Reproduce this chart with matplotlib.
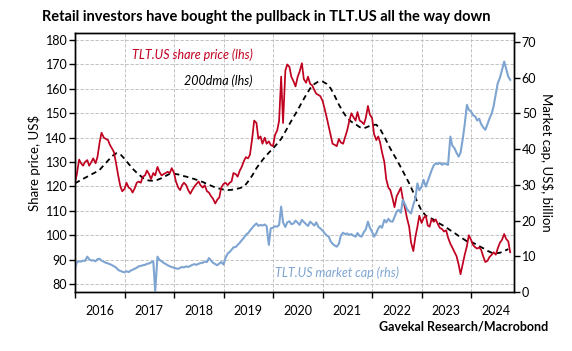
import pandas as pd
import matplotlib
matplotlib.use("Agg")
import matplotlib.pyplot as plt
import matplotlib.dates as mdates

plt.rcParams["font.family"] = ["Lato", "DejaVu Sans"]

# ----- DATA -----
# TLT.US share price, US$ (1st and 15th of each month)
price_2016 = [121.5, 125, 131, 129.5, 128.5, 130, 130.8, 128.5, 130, 131.5, 129.5, 132,
              138, 142, 140, 139.5, 139, 137, 135.5, 134, 129, 124.5, 120, 118]
price_2017 = [119, 121.5, 119.5, 119, 117.5, 119, 121.5, 122, 121.5, 124, 124.5, 126.5,
              125, 123, 125.5, 124.5, 128, 126, 124.5, 125, 125.5, 126, 125.5, 127.5]
price_2018 = [125.5, 122, 119.5, 118.5, 120.5, 121.5, 120.5, 118.5, 117, 118.5, 120, 121,
              122, 120.5, 119.5, 120.5, 118, 117.5, 116, 115, 113, 114.5, 115.5, 119.5]
price_2019 = [121, 121.5, 120.5, 121.5, 122, 125.5, 125, 124, 126.5, 128, 130.5, 132,
              131.5, 133, 140, 147, 146, 139.5, 140.5, 137.5, 140, 137.5, 138.5, 137]
price_2020 = [136.5, 141, 143, 147, 165, 146, 167.5, 170, 169, 165, 163, 161,
              165, 167, 170.5, 164, 162.5, 165, 162, 161.5, 159.5, 158, 157.5, 157]
price_2021 = [155, 152, 148, 144.5, 141, 137.5, 137, 136.5, 139.5, 138, 137.5, 140,
              143, 146.5, 150, 148.5, 147, 150.5, 147, 146.5, 145.5, 148, 153, 149.5]
price_2022 = [148, 141.5, 139, 140.5, 138, 134, 130, 123, 119.5, 118.5, 115, 111.5,
              116, 117.5, 119.5, 115, 111, 107, 103.5, 97, 93.5, 99, 103.5, 108]
price_2023 = [105, 107, 108, 104, 103.5, 106.5, 105.5, 106.5, 104.5, 103, 102.5, 101.5,
              102, 99, 96.5, 95, 93, 91.5, 88, 84, 88.5, 92, 95.5, 100]
price_2024 = [98, 96, 95, 94.5, 95, 94, 91, 89, 89.5, 91, 92, 93,
              92, 94.5, 97, 98, 100.5, 98.5, 97.5, 93]

# TLT.US market cap, US$ billion (1st and 15th of each month)
cap_2016 = [6.3, 8.3, 8.6, 8.5, 8.8, 8.7, 9.9, 9.2, 8.8, 8.9, 8.6, 9.2,
            9.3, 8.8, 8.5, 8.2, 8.0, 7.8, 7.5, 7.2, 6.8, 6.2, 5.9, 5.7]
cap_2017 = [5.5, 5.8, 5.6, 6.0, 6.2, 6.5, 6.8, 7.2, 7.3, 7.5, 7.6, 7.9,
            8.0, 8.3, 8.6, 0.3, 9.9, 9.0, 8.6, 8.2, 7.8, 7.5, 7.2, 7.0]
cap_2018 = [6.8, 6.6, 6.5, 6.8, 7.0, 6.9, 7.2, 7.0, 7.3, 7.6, 7.8, 7.6,
            7.9, 8.1, 8.2, 8.5, 8.4, 9.5, 8.8, 8.2, 7.8, 7.5, 8.0, 8.4]
cap_2019 = [7.7, 9.5, 10.8, 11.2, 11.8, 12.5, 12.6, 13.2, 13.8, 14.5, 15.2, 16.0,
            16.5, 17.2, 18.0, 18.6, 19.2, 18.5, 18.8, 18.6, 18.9, 18.4, 13.2, 17.8]
cap_2020 = [18.0, 18.4, 18.3, 18.8, 23.9, 19.5, 18.2, 19.5, 19.8, 19.0, 19.2, 20.0,
            19.4, 18.8, 20.2, 19.6, 19.0, 18.5, 19.7, 19.2, 18.6, 19.5, 18.2, 17.8]
cap_2021 = [17.2, 16.5, 15.8, 15.5, 14.2, 13.5, 13.0, 12.7, 13.5, 15.8, 16.6, 16.2,
            16.4, 16.0, 16.2, 15.8, 15.5, 16.5, 15.7, 15.5, 16.8, 17.5, 19.7, 18.0]
cap_2022 = [16.8, 15.5, 16.5, 17.8, 18.5, 18.0, 20.2, 19.5, 20.5, 19.8, 19.7, 21.0,
            22.5, 23.0, 22.2, 25.8, 24.5, 23.2, 22.5, 22.0, 24.5, 26.0, 30.4, 28.5]
cap_2023 = [29.5, 31.4, 29.5, 31.0, 32.5, 34.0, 35.5, 36.0, 35.8, 36.2, 35.6, 36.0,
            35.8, 35.6, 43.5, 41.0, 40.2, 39.0, 37.9, 39.0, 43.0, 47.0, 52.4, 51.0]
cap_2024 = [50.5, 49.5, 49.1, 48.0, 48.5, 47.0, 46.0, 45.4, 47.0, 48.5, 50.0, 52.0,
            55.5, 58.4, 60.0, 62.0, 64.5, 62.5, 60.3, 59.4]

# 200-day moving average, US$ (1st of each month)
dma_2016 = [121.3, 122.2, 123.1, 124.0, 124.9, 125.8, 126.8, 128.7, 130.6, 132.4, 133.6, 133.2]
dma_2017 = [131.3, 129.2, 127.3, 125.6, 124.2, 122.8, 122.4, 122.3, 122.7, 123.4, 124.3, 125.2]
dma_2018 = [125.2, 124.9, 124.4, 124.0, 123.5, 123.0, 122.4, 121.8, 121.0, 120.3, 119.6, 119.1]
dma_2019 = [118.7, 118.5, 118.6, 118.9, 119.3, 119.9, 122.0, 124.5, 127.5, 129.8, 132.0, 133.8]
dma_2020 = [135.6, 137.5, 139.5, 142.5, 145.5, 148.5, 151.3, 154.5, 157.5, 160.2, 162.0, 163.0]
dma_2021 = [163.0, 162.0, 160.2, 157.0, 153.5, 150.5, 148.0, 146.5, 145.5, 144.3, 143.8, 144.5]
dma_2022 = [145.2, 145.3, 143.5, 140.4, 137.0, 133.8, 131.0, 127.8, 124.5, 121.3, 117.5, 113.5]
dma_2023 = [110.0, 108.0, 107.3, 106.3, 105.1, 104.2, 103.2, 102.0, 100.9, 99.7, 98.6, 97.5]
dma_2024 = [97.3, 96.4, 95.5, 94.6, 93.6, 92.8, 92.6, 92.8, 93.5, 94.3]

years = ["2016", "2017", "2018", "2019", "2020", "2021", "2022", "2023", "2024"]

price = price_2016 + price_2017 + price_2018 + price_2019 + price_2020 + price_2021 + price_2022 + price_2023 + price_2024
cap = cap_2016 + cap_2017 + cap_2018 + cap_2019 + cap_2020 + cap_2021 + cap_2022 + cap_2023 + cap_2024
dma = dma_2016 + dma_2017 + dma_2018 + dma_2019 + dma_2020 + dma_2021 + dma_2022 + dma_2023 + dma_2024

semi_dates = pd.date_range("2016-01-01", "2024-10-15", freq="SMS")
month_dates = pd.date_range("2016-01-01", "2024-10-01", freq="MS")

RED = "#c0001f"
BLUE = "#7ea5d1"

# ----- PLOT -----
fig = plt.figure(figsize=(5.72, 3.51), dpi=100)
ax = fig.add_axes([0.131, 0.168, 0.768, 0.738])
ax2 = ax.twinx()

ax.plot(month_dates, dma, color="black", lw=1.3, ls=(0, (3, 2.2)), zorder=3)
ax.plot(semi_dates, price, color=RED, lw=1.25, zorder=4)
ax2.plot(semi_dates, cap, color=BLUE, lw=1.5, zorder=2)

ax.set_ylim(76.7, 182.9)
ax.set_yticks(range(80, 181, 10))
ax2.set_ylim(0, 72.5)
ax2.set_yticks(range(0, 71, 10))

ax.set_xlim(pd.Timestamp("2016-01-01"), pd.Timestamp("2024-11-14"))
ax.xaxis.set_major_locator(mdates.YearLocator())
ax.xaxis.set_major_formatter(plt.NullFormatter())
ax.set_xticks([pd.Timestamp(y + "-07-01") for y in years], minor=True)
ax.set_xticklabels(years, minor=True)
ax.tick_params(axis="x", which="minor", length=0, pad=9, labelsize=9)
ax.tick_params(axis="x", which="major", length=4, width=1)
ax.tick_params(axis="y", length=4, width=1, labelsize=9, pad=1.5)
ax2.tick_params(axis="y", length=4, width=1, labelsize=9, pad=1.5)

ax.grid(True, which="major", color="#b8b8b8", lw=0.6, ls=(0, (4, 2)))
for a in (ax, ax2):
    for s in a.spines.values():
        s.set_linewidth(1)

ax.set_ylabel("Share price, US$", fontsize=9.5, labelpad=3)
ax2.set_ylabel("Market cap, US$, billion", fontsize=9.5, rotation=-90, labelpad=12)

ax.text(0.405, 0.915, "TLT.US share price (lhs)", transform=ax.transAxes, ha="right",
        va="center", color=RED, style="italic", fontsize=9)
ax.text(0.405, 0.815, "200dma (lhs)", transform=ax.transAxes, ha="right",
        va="center", color="black", style="italic", fontsize=9)
ax.text(0.738, 0.073, "TLT.US market cap (rhs)", transform=ax.transAxes, ha="right",
        va="center", color=BLUE, style="italic", fontsize=9)

fig.text(0.466, 0.952, "Retail investors have bought the pullback in TLT.US all the way down",
         ha="center", va="center", fontsize=10.5, fontweight="bold")
fig.text(0.958, 0.071, "Gavekal Research/Macrobond", ha="right", va="center",
         fontsize=9, fontweight="bold")

fig.savefig("out.png", dpi=100)
